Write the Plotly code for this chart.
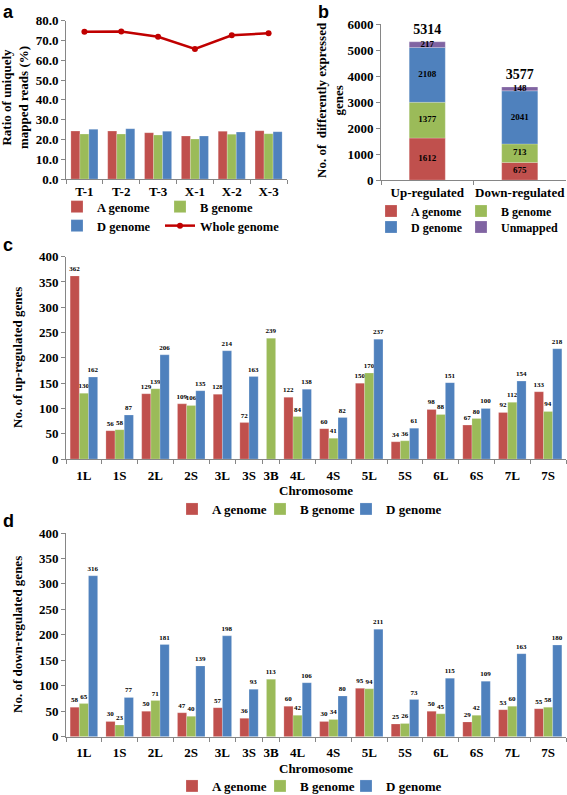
import plotly.graph_objects as go

W, H = 567, 795

# ---------------- data ----------------
samples = ["T-1", "T-2", "T-3", "X-1", "X-2", "X-3"]
ratio_A = [24.2, 24.2, 23.4, 21.7, 24.1, 24.4]
ratio_B = [22.7, 22.7, 22.2, 20.2, 22.6, 22.9]
ratio_D = [25.1, 25.4, 24.1, 21.7, 23.7, 23.9]
ratio_whole = [74.4, 74.6, 71.9, 65.7, 72.6, 73.7]

regulation = ["Up-regulated", "Down-regulated"]
deg_A = [1612, 675]
deg_B = [1377, 713]
deg_D = [2108, 2041]
deg_unmapped = [217, 148]

chromosomes = ["1L", "1S", "2L", "2S", "3L", "3S", "3B", "4L", "4S",
               "5L", "5S", "6L", "6S", "7L", "7S"]
up_A = [362, 56, 129, 109, 128, 72, None, 122, 60, 150, 34, 98, 67, 92, 133]
up_B = [130, 58, 139, 106, None, None, 239, 84, 41, 170, 36, 88, 80, 112, 94]
up_D = [162, 87, 206, 135, 214, 163, None, 138, 82, 237, 61, 151, 100, 154, 218]
down_A = [58, 30, 50, 47, 57, 36, None, 60, 30, 95, 25, 50, 29, 53, 55]
down_B = [65, 23, 71, 40, None, None, 113, 42, 34, 94, 26, 45, 42, 60, 58]
down_D = [316, 77, 181, 139, 198, 93, None, 106, 80, 211, 73, 115, 109, 163, 180]

# ---------------- styles ----------------
RED = "#C0504D"
GREEN = "#9BBB59"
BLUE = "#4F81BD"
PURPLE = "#8064A2"
LINE_RED = "#C00000"
AXIS = "#868686"
SERIF = "Liberation Serif, Times New Roman, serif"
SANS = "Liberation Sans, Arial, sans-serif"
EDGE = dict(color="rgba(255,255,255,0.35)", width=0.6)


def fx(px):
    return px / W


def fy(py):
    return 1 - py / H


fig = go.Figure()
legends = {}
legend_count = [0]


def new_legend(xpx, ypx, size):
    legend_count[0] += 1
    key = "legend" if legend_count[0] == 1 else "legend%d" % legend_count[0]
    legends[key] = dict(
        x=fx(xpx), y=fy(ypx), xanchor="left", yanchor="middle",
        orientation="h", bgcolor="rgba(0,0,0,0)", itemwidth=30,
        font=dict(family=SERIF, size=size, color="black", weight="bold"))
    return key


# ---------------- panel a ----------------
bw_a = 0.245
leg_pos_a = [(57, 207), (160, 207), (57, 226)]
for k, (name, vals, col) in enumerate([("A genome", ratio_A, RED),
                                       ("B genome", ratio_B, GREEN),
                                       ("D genome", ratio_D, BLUE)]):
    fig.add_trace(go.Bar(
        x=samples, y=vals, name=name, width=bw_a, offset=(k - 1.5) * bw_a,
        marker=dict(color=col, line=EDGE), xaxis="x", yaxis="y",
        legend=new_legend(*leg_pos_a[k], 12.5)))
fig.add_trace(go.Scatter(
    x=samples, y=ratio_whole, name="Whole genome", mode="lines+markers",
    line=dict(color=LINE_RED, width=2.5), marker=dict(color=LINE_RED, size=6),
    xaxis="x", yaxis="y", legend=new_legend(160, 226, 12.5)))

# ---------------- panel b ----------------
base = [0] * len(regulation)
leg_pos_b = [(371, 211), (461, 211), (371, 227), (461, 227)]
for k, (name, vals, col) in enumerate([("A genome", deg_A, RED),
                                       ("B genome", deg_B, GREEN),
                                       ("D genome", deg_D, BLUE),
                                       ("Unmapped", deg_unmapped, PURPLE)]):
    fig.add_trace(go.Bar(
        x=regulation, y=vals, base=list(base), name=name, width=0.39,
        marker=dict(color=col, line=EDGE), xaxis="x2", yaxis="y2",
        legend=new_legend(*leg_pos_b[k], 12)))
    mids = [b + v / 2 for b, v in zip(base, vals)]
    fig.add_trace(go.Scatter(
        x=regulation, y=mids, mode="text", text=[str(v) for v in vals],
        textfont=dict(family=SERIF, size=9, color="black", weight="bold"),
        showlegend=False, xaxis="x2", yaxis="y2", hoverinfo="skip"))
    base = [b + v for b, v in zip(base, vals)]
fig.add_trace(go.Scatter(
    x=regulation, y=base, mode="markers+text", text=[str(t) for t in base],
    textposition="top center", cliponaxis=False,
    marker=dict(size=5, opacity=0),
    textfont=dict(family=SERIF, size=14, color="black", weight="bold"),
    showlegend=False, xaxis="x2", yaxis="y2", hoverinfo="skip"))

# ---------------- panels c & d ----------------
GAP = 0.9  # gap between chromosome groups, in bar widths


def group_layout(series_list):
    n = len(chromosomes)
    pos = [[None] * n for _ in series_list]
    centers, bounds = [], [0.0]
    cursor = 0.0
    for i in range(n):
        present = [k for k, s in enumerate(series_list) if s[i] is not None]
        width = len(present) + GAP
        for j, k in enumerate(present):
            pos[k][i] = cursor + GAP / 2 + j + 0.5
        centers.append(cursor + width / 2)
        cursor += width
        bounds.append(cursor)
    return pos, centers, bounds


panel_axes = {}
leg_x_cd = [172, 260, 346]
for (xa, ya, leg_y, series) in [("x3", "y3", 509, [up_A, up_B, up_D]),
                                ("x4", "y4", 786, [down_A, down_B, down_D])]:
    pos, centers, bounds = group_layout(series)
    panel_axes[xa] = (centers, bounds)
    for k, (name, col) in enumerate([("A genome", RED), ("B genome", GREEN),
                                     ("D genome", BLUE)]):
        xs = [p for p, v in zip(pos[k], series[k]) if v is not None]
        ys = [v for v in series[k] if v is not None]
        fig.add_trace(go.Bar(
            x=xs, y=ys, name=name, width=1, marker=dict(color=col, line=EDGE),
            text=[str(v) for v in ys], textposition="outside",
            constraintext="none", cliponaxis=False,
            textfont=dict(family=SERIF, size=7, color="black", weight="bold"),
            xaxis=xa, yaxis=ya, legend=new_legend(leg_x_cd[k], leg_y, 13)))

# ---------------- layout ----------------
tickfont = dict(family=SERIF, size=13, color="black", weight="bold")
axis_common = dict(showline=True, linecolor=AXIS, linewidth=1, showgrid=False,
                   zeroline=False, ticks="outside", ticklen=4, tickcolor=AXIS,
                   tickfont=tickfont, fixedrange=True, automargin=False)


def cat_x(domain, anchor, n):
    return dict(axis_common, domain=domain, anchor=anchor, type="category",
                tickson="boundaries", range=[-0.5, n - 0.5], tickangle=0)


def chrom_x(domain, anchor, key):
    centers, bounds = panel_axes[key]
    return dict(axis_common, domain=domain, anchor=anchor, range=[0, bounds[-1]],
                tickmode="array", tickvals=centers, ticktext=chromosomes,
                tickcolor="rgba(0,0,0,0)", tickangle=0,
                minor=dict(tickmode="array", tickvals=bounds,
                           ticks="outside", ticklen=4, tickcolor=AXIS))


fig.update_layout(
    width=W, height=H, margin=dict(l=0, r=0, t=0, b=0, autoexpand=False),
    paper_bgcolor="white", plot_bgcolor="white", barmode="overlay",
    font=dict(family=SERIF, size=13, color="black"),
    showlegend=True,
    xaxis=cat_x([fx(66), fx(287)], "y", len(samples)),
    yaxis=dict(axis_common, domain=[fy(179), fy(20.7)], anchor="x",
               range=[0, 80], dtick=10, tickformat=".1f"),
    xaxis2=cat_x([fx(381), fx(566)], "y2", len(regulation)),
    yaxis2=dict(axis_common, domain=[fy(180), fy(24)], anchor="x2",
                range=[0, 6000], dtick=1000),
    xaxis3=chrom_x([fx(66), fx(566)], "y3", "x3"),
    yaxis3=dict(axis_common, domain=[fy(459), fy(256.7)], anchor="x3",
                range=[0, 400], dtick=50),
    xaxis4=chrom_x([fx(66), fx(566)], "y4", "x4"),
    yaxis4=dict(axis_common, domain=[fy(736.7), fy(533)], anchor="x4",
                range=[0, 400], dtick=50),
    **legends,
)

title_font = dict(family=SERIF, size=13, color="black", weight="bold")
letter_font = dict(family=SANS, size=18, color="black", weight="bold")
annotations = [
    dict(text="a", x=fx(1), y=fy(0), xanchor="left", yanchor="top", font=letter_font),
    dict(text="b", x=fx(316), y=fy(0), xanchor="left", yanchor="top", font=letter_font),
    dict(text="c", x=fx(1), y=fy(245), xanchor="left", font=letter_font),
    dict(text="d", x=fx(1), y=fy(521), xanchor="left", font=letter_font),
    dict(text="Ratio of uniquely<br>mapped reads (%)", x=fx(15), y=fy(98),
         xanchor="center", textangle=-90, font=title_font),
    dict(text="No. of  differently expressed<br>genes", x=fx(330), y=fy(100),
         xanchor="center", textangle=-90, font=title_font),
    dict(text="No. of up-regulated genes", x=fx(17), y=fy(358),
         xanchor="center", textangle=-90, font=title_font),
    dict(text="No. of down-regulated genes", x=fx(17), y=fy(635),
         xanchor="center", textangle=-90, font=title_font),
    dict(text="Chromosome", x=fx(316), y=fy(490), xanchor="center", font=title_font),
    dict(text="Chromosome", x=fx(316), y=fy(768), xanchor="center", font=title_font),
]
for a in annotations:
    a.setdefault("yanchor", "middle")
    a.update(xref="paper", yref="paper", showarrow=False)
fig.update_layout(annotations=annotations)

fig.write_html(
    "out.html",
    config={"displayModeBar": False},
    post_script="document.body.style.margin='0';document.body.style.overflow='hidden';")
